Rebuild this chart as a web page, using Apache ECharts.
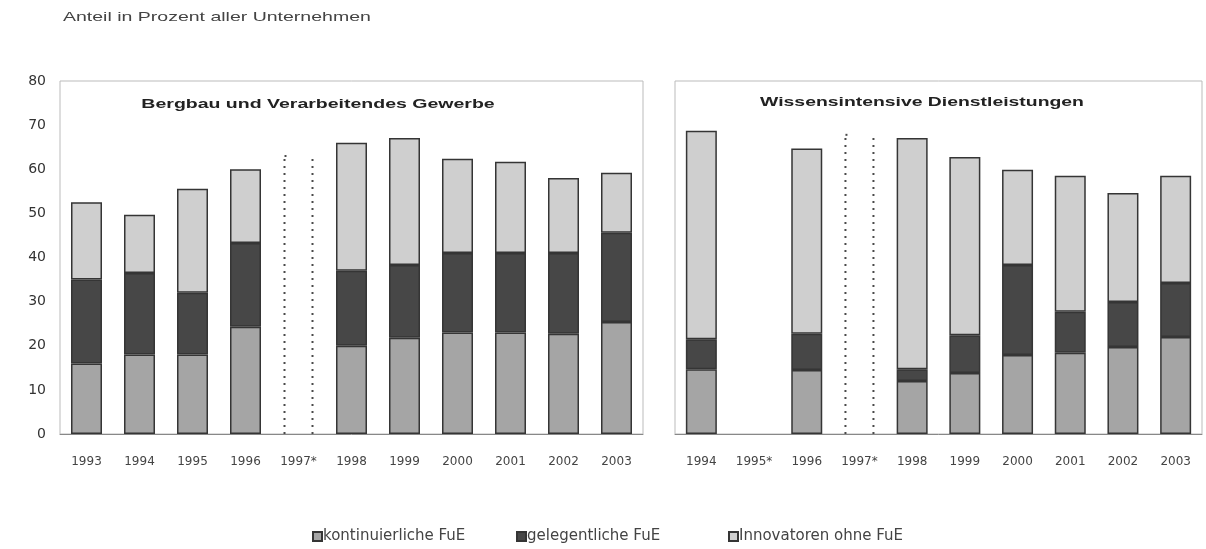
<!DOCTYPE html>
<html>
<head>
<meta charset="utf-8">
<script src="https://cdn.jsdelivr.net/npm/echarts@6/dist/echarts.min.js"></script>
<style>
  html, body { margin: 0; padding: 0; background: #fff; }
  #chart { width: 1206px; height: 549px; }
</style>
</head>
<body>
<div id="chart"></div>
<script>
// Bergbau und Verarbeitendes Gewerbe
const yearsIndustry = ['1993', '1994', '1995', '1996', '1997*', '1998', '1999', '2000', '2001', '2002', '2003'];
const kontIndustry = [16, 18, 18, 24.3, null, 20, 21.8, 23, 23, 22.7, 25.4];
const gelIndustry = [19, 18.5, 14, 19, null, 17, 16.5, 18, 18, 18.3, 20.2];
const innoIndustry = [17.5, 13.2, 23.6, 16.7, null, 29, 28.8, 21.4, 20.7, 17, 13.6];
// 1997*: no breakdown, only the outline of the total
const gapIndustry = [[4, 63]];

// Wissensintensive Dienstleistungen
const yearsServices = ['1994', '1995*', '1996', '1997*', '1998', '1999', '2000', '2001', '2002', '2003'];
const kontServices = [14.7, null, 14.5, null, 12, 13.8, 17.9, 18.4, 19.7, 22];
const gelServices = [6.8, null, 8.2, null, 2.7, 8.6, 20.4, 9.3, 10.2, 12.2];
const innoServices = [47.2, null, 42, null, 52.4, 40.4, 21.6, 30.8, 24.7, 24.3];
const gapServices = [[3, 67.8]];

const yTicks = [0, 10, 20, 30, 40, 50, 60, 70, 80];
const seriesNames = ['kontinuierliche FuE', 'gelegentliche FuE', 'Innovatoren ohne FuE'];
const colors = ['#a5a5a5', '#474747', '#cfcfcf'];

const font = 'Liberation Sans, Arial, sans-serif';
const wideFont = 'DejaVu Sans, Verdana, sans-serif';
const chart = echarts.init(document.getElementById('chart'), null, { renderer: 'canvas' });

function stackSeries(idx, data, name, color) {
  return {
    type: 'bar',
    name: name,
    stack: 'g' + idx,
    xAxisIndex: idx,
    yAxisIndex: idx,
    barWidth: 31,
    data: data,
    itemStyle: { color: color, borderColor: '#353535', borderWidth: 1.5 },
    emphasis: { disabled: true }
  };
}

function gapSeries(idx, data) {
  return {
    type: 'custom',
    xAxisIndex: idx,
    yAxisIndex: idx,
    data: data,
    encode: { x: 0, y: 1 },
    silent: true,
    renderItem: function (params, api) {
      const base = api.coord([api.value(0), 0]);
      const top = api.coord([api.value(0), api.value(1)]);
      const half = 14;
      const style = { stroke: '#4a4a4a', lineWidth: 2, lineDash: [2, 5] };
      return {
        type: 'group',
        children: [
          { type: 'line', shape: { x1: base[0] - half, y1: base[1], x2: base[0] - half, y2: top[1] }, style: style },
          { type: 'line', shape: { x1: base[0] + half, y1: base[1], x2: base[0] + half, y2: top[1] }, style: style },
          { type: 'line', shape: { x1: base[0] - half, y1: top[1], x2: base[0] - half + 7, y2: top[1] }, style: style }
        ]
      };
    }
  };
}

function xAxis(idx, cats) {
  return {
    type: 'category',
    gridIndex: idx,
    data: cats,
    axisLine: { lineStyle: { color: '#888', width: 1 } },
    axisTick: { show: false },
    axisLabel: { color: '#444', fontSize: 12, fontFamily: wideFont, margin: 22 }
  };
}

function yAxis(idx, showLabels) {
  return {
    type: 'value',
    gridIndex: idx,
    min: yTicks[0],
    max: yTicks[yTicks.length - 1],
    interval: yTicks[1] - yTicks[0],
    axisLine: { show: false },
    axisTick: { show: false },
    splitLine: { show: false },
    axisLabel: { show: showLabels, color: '#333', fontSize: 14, fontFamily: wideFont, margin: 14 }
  };
}

function legendItem(name, left) {
  return {
    data: [name],
    top: 529,
    left: left,
    itemWidth: 9,
    itemHeight: 9,
    icon: 'rect',
    padding: 0,
    textStyle: { fontSize: 15, color: '#444', fontFamily: wideFont, padding: [0, 0, 0, -4] }
  };
}

const option = {
  backgroundColor: '#ffffff',
  animation: false,
  graphic: [
    {
      type: 'text', x: 63, y: 11, scaleX: 1.5, silent: true,
      style: { text: 'Anteil in Prozent aller Unternehmen', font: '13px ' + font, fill: '#444', textAlign: 'left', textVerticalAlign: 'top' }
    },
    {
      type: 'text', x: 318, y: 98, scaleX: 1.5, silent: true,
      style: { text: 'Bergbau und Verarbeitendes Gewerbe', font: 'bold 13px ' + font, fill: '#222', textAlign: 'center', textVerticalAlign: 'top' }
    },
    {
      type: 'text', x: 922, y: 96, scaleX: 1.49, silent: true,
      style: { text: 'Wissensintensive Dienstleistungen', font: 'bold 13px ' + font, fill: '#222', textAlign: 'center', textVerticalAlign: 'top' }
    }
  ],
  legend: [
    legendItem(seriesNames[0], 312),
    legendItem(seriesNames[1], 516),
    legendItem(seriesNames[2], 728)
  ],
  grid: [
    { left: 60, top: 81, width: 583, height: 353, show: true, borderColor: '#bbb', borderWidth: 1, backgroundColor: 'transparent' },
    { left: 675, top: 81, width: 527, height: 353, show: true, borderColor: '#bbb', borderWidth: 1, backgroundColor: 'transparent' }
  ],
  xAxis: [xAxis(0, yearsIndustry), xAxis(1, yearsServices)],
  yAxis: [yAxis(0, true), yAxis(1, false)],
  series: [
    stackSeries(0, kontIndustry, seriesNames[0], colors[0]),
    stackSeries(0, gelIndustry, seriesNames[1], colors[1]),
    stackSeries(0, innoIndustry, seriesNames[2], colors[2]),
    gapSeries(0, gapIndustry),
    stackSeries(1, kontServices, seriesNames[0], colors[0]),
    stackSeries(1, gelServices, seriesNames[1], colors[1]),
    stackSeries(1, innoServices, seriesNames[2], colors[2]),
    gapSeries(1, gapServices)
  ]
};

chart.setOption(option);
</script>
</body>
</html>
